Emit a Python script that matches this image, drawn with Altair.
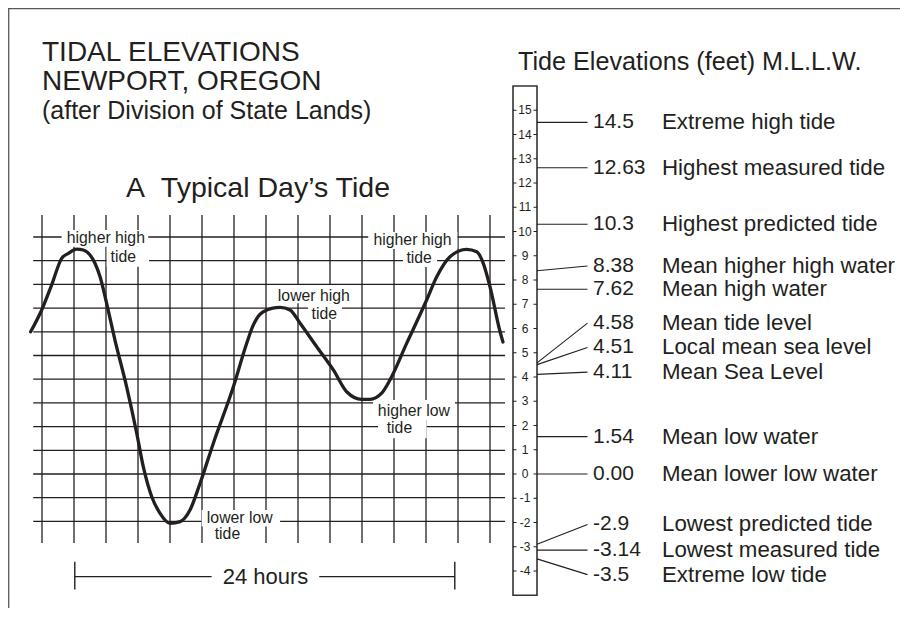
import altair as alt
import pandas as pd

# ---------------- data ----------------
# typical day's tide curve (hours from first grid line, level on the grid)
tide_hours = [-0.71, -0.02, 0.6, 1.23, 1.65, 2.17, 2.58, 3.31, 3.63, 4.04, 4.56, 5.29,
              5.92, 6.33, 6.86, 7.38, 8.0, 8.63, 9.25, 9.88, 10.71, 11.96, 12.79, 13.21,
              13.83, 14.88, 15.5, 16.13, 17.17, 18.21, 19.04, 19.98, 20.5, 21.23, 21.75,
              22.79, 24.04, 24.67, 25.5, 26.54, 27.17, 27.58, 28.0, 28.63, 28.81]
tide_level = [6.0, 6.92, 7.97, 9.1, 9.31, 9.49, 9.45, 8.89, 8.32, 7.2, 5.65, 3.68,
              1.72, 0.31, -0.96, -1.66, -2.08, -2.01, -1.52, -0.39, 1.3, 3.68, 5.51, 6.29,
              6.85, 7.03, 6.92, 6.36, 5.37, 4.39, 3.47, 3.15, 3.15, 3.41, 3.97,
              5.51, 7.34, 8.32, 9.17, 9.48, 9.38, 8.89, 7.9, 6.0, 5.57]

grid_hours = list(range(0, 29, 2))
grid_levels = list(range(-2, 11))

ruler_ticks = list(range(-4, 16))
ruler_top, ruler_bottom = 16, -5

datum_values = [14.5, 12.63, 10.3, 8.38, 7.62, 4.58, 4.51, 4.11, 1.54, 0.00, -2.9, -3.14, -3.5]
datum_labels = ["14.5", "12.63", "10.3", "8.38", "7.62", "4.58", "4.51", "4.11",
                "1.54", "0.00", "-2.9", "-3.14", "-3.5"]
datum_names = ["Extreme high tide", "Highest measured tide", "Highest predicted tide",
               "Mean higher high water", "Mean high water", "Mean tide level",
               "Local mean sea level", "Mean Sea Level", "Mean low water",
               "Mean lower low water", "Lowest predicted tide", "Lowest measured tide",
               "Extreme low tide"]

curve_labels = ["higher high", "tide", "higher high", "tide", "lower high", "tide",
                "higher low", "tide", "lower low", "tide"]

title_lines = ["TIDAL ELEVATIONS", "NEWPORT, OREGON", "(after Division of State Lands)"]
subtitle = "A\u00a0\u00a0Typical Day\u2019s Tide"
right_title = "Tide Elevations (feet) M.L.L.W."
span_label = "24 hours"

# ---------------- layout ----------------
OX, OY = 8, 8
W, H = 892, 600
HOUR_X0, PX_PER_HOUR = 42, 16
G_Y0, PX_PER_G = 474, 23.7
R_Y0, PX_PER_R = 474, 24.25

INK = "#231f20"
FONT = "Liberation Sans"


def px(v):
    return v - OX


def py(v):
    return v - OY


xs = alt.Scale(domain=[(OX - HOUR_X0) / PX_PER_HOUR, (OX + W - HOUR_X0) / PX_PER_HOUR],
               nice=False, zero=False)
ygs = alt.Scale(domain=[(G_Y0 - (OY + H)) / PX_PER_G, (G_Y0 - OY) / PX_PER_G],
                nice=False, zero=False)
yrs = alt.Scale(domain=[(R_Y0 - (OY + H)) / PX_PER_R, (R_Y0 - OY) / PX_PER_R],
                nice=False, zero=False)


def X(f):
    return alt.X(f, type="quantitative", scale=xs, axis=None)


def X2(f):
    return alt.X2(f)


def YG(f):
    return alt.Y(f, type="quantitative", scale=ygs, axis=None)


def YR(f):
    return alt.Y(f, type="quantitative", scale=yrs, axis=None)


# annotation placement (hours / grid level)
lab_h = [3.99, 5.08, 23.16, 23.57, 16.99, 17.64, 23.24, 22.34, 12.36, 11.59]
lab_g = [9.76, 8.96, 9.66, 8.89, 7.30, 6.54, 2.45, 1.74, -2.05, -2.76]
box_h0 = [1.23, 4.04, 20.39, 22.56, 14.56, 16.63, 20.69, 21.0, 9.98, 10.06]
box_h1 = [6.64, 6.69, 25.96, 24.69, 19.88, 18.75, 25.81, 24.04, 14.88, 12.81]
box_g0 = [10.30, 9.59, 10.21, 9.49, 7.97, 7.20, 3.12, 2.28, -1.52, -2.22]
box_g1 = [9.59, 8.75, 9.49, 8.73, 7.20, 6.50, 2.28, 1.51, -2.22, -3.0]
grid_left, grid_right = -0.55, 28.94
grid_top, grid_bottom = 10.93, -2.91
span_start, span_end, span_level = 2.05, 25.8, -4.33
span_gap0, span_gap1 = 10.6, 17.33
span_tick_top, span_tick_bottom = -3.70, -4.87
span_mid = 13.97
# text rows for the datum list (ruler feet), nudged where crowded
datum_rows = [14.5, 12.63, 10.3, 8.58, 7.62, 6.22, 5.22, 4.2, 1.54, 0.0, -2.08, -3.14, -4.15]

# ---------------- left panel ----------------
vgrid = alt.Chart(pd.DataFrame({"h": grid_hours, "t": grid_top, "b": grid_bottom})).mark_rule(
    color=INK, strokeWidth=1.3).encode(x=X("h"), y=YG("t"), y2=alt.Y2("b"))
hgrid = alt.Chart(pd.DataFrame({"g": grid_levels, "l": grid_left, "r": grid_right})).mark_rule(
    color=INK, strokeWidth=1.3).encode(y=YG("g"), x=X("l"), x2=X2("r"))

boxes = alt.Chart(pd.DataFrame({"h0": box_h0, "h1": box_h1, "g0": box_g0, "g1": box_g1})).mark_rect(
    fill="white", strokeWidth=0).encode(x=X("h0"), x2=X2("h1"), y=YG("g0"), y2=alt.Y2("g1"))
labels = alt.Chart(pd.DataFrame({"t": curve_labels, "h": lab_h, "g": lab_g})).mark_text(
    font=FONT, fontSize=15.8, color=INK, align="center", baseline="alphabetic").encode(
    x=X("h"), y=YG("g"), text="t:N")

curve = alt.Chart(pd.DataFrame({"h": tide_hours, "g": tide_level})).mark_line(
    color=INK, strokeWidth=3.3, interpolate="monotone", strokeCap="round").encode(
    x=X("h"), y=YG("g"))

span_df = pd.DataFrame({"a": [span_start, span_gap1], "b": [span_gap0, span_end], "g": span_level})
span_lines = alt.Chart(span_df).mark_rule(color=INK, strokeWidth=1.2).encode(
    x=X("a"), x2=X2("b"), y=YG("g"))
span_ticks = alt.Chart(pd.DataFrame({"h": [span_start, span_end], "t": span_tick_top,
                                     "b": span_tick_bottom})).mark_rule(
    color=INK, strokeWidth=1.4).encode(x=X("h"), y=YG("t"), y2=alt.Y2("b"))
span_text = alt.Chart(pd.DataFrame({"t": [span_label], "h": [span_mid], "g": [span_level]})).mark_text(
    font=FONT, fontSize=22, color=INK, align="center", baseline="middle").encode(
    x=X("h"), y=YG("g"), text="t:N")

one = pd.DataFrame({"a": [0]})
frame_top = alt.Chart(one).mark_rule(color="#58595b", strokeWidth=1.3).encode(
    x=alt.value(0), x2=alt.value(W), y=alt.value(0.7))
frame_left = alt.Chart(one).mark_rule(color="#58595b", strokeWidth=1.3).encode(
    x=alt.value(0.7), y=alt.value(0), y2=alt.value(H))

title_sizes = [28.0, 28.0, 25.0]
title_base = [61.3, 90, 119]
titles = [
    alt.Chart(pd.DataFrame({"t": [line]})).mark_text(
        font=FONT, fontSize=s, color=INK, align="left", baseline="alphabetic").encode(
        x=alt.value(px(42)), y=alt.value(py(b)), text="t:N")
    for line, s, b in zip(title_lines, title_sizes, title_base)
]
sub = alt.Chart(pd.DataFrame({"t": [subtitle]})).mark_text(
    font=FONT, fontSize=28.5, color=INK, align="left", baseline="alphabetic").encode(
    x=alt.value(px(126)), y=alt.value(py(197)), text="t:N")

left = alt.layer(frame_top, frame_left, vgrid, hgrid, boxes, labels, curve,
                 span_lines, span_ticks, span_text, *titles, sub)

# ---------------- right panel (ruler) ----------------
RL, RR = px(513), px(537)
ruler = alt.Chart(pd.DataFrame({"t": [ruler_top], "b": [ruler_bottom]})).mark_rect(
    fill="white", stroke="#333333", strokeWidth=1.6).encode(
    x=alt.value(RL), x2=alt.value(RR), y=YR("t"), y2=alt.Y2("b"))
tick_df = pd.DataFrame({"v": ruler_ticks, "lab": [str(t) for t in ruler_ticks]})
ticks_l = alt.Chart(tick_df).mark_rule(color=INK, strokeWidth=1).encode(
    x=alt.value(RL), x2=alt.value(RL + 3.5), y=YR("v"))
ticks_r = alt.Chart(tick_df).mark_rule(color=INK, strokeWidth=1).encode(
    x=alt.value(RR - 3.5), x2=alt.value(RR), y=YR("v"))
tick_text = alt.Chart(tick_df).mark_text(
    font=FONT, fontSize=12, color=INK, align="center", baseline="middle").encode(
    x=alt.value(px(525)), y=YR("v"), text="lab:N")

datum_df = pd.DataFrame({"v": datum_values, "row": datum_rows, "lab": datum_labels,
                         "name": datum_names})
leaders = alt.Chart(datum_df).mark_rule(color=INK, strokeWidth=1.1).encode(
    x=alt.value(RR), x2=alt.value(px(587.5)), y=YR("v"), y2=alt.Y2("row"))
values = alt.Chart(datum_df).mark_text(
    font=FONT, fontSize=21, color=INK, align="left", baseline="middle").encode(
    x=alt.value(px(593)), y=YR("row"), text="lab:N")
names = alt.Chart(datum_df).mark_text(
    font=FONT, fontSize=22.3, color=INK, align="left", baseline="middle").encode(
    x=alt.value(px(662)), y=YR("row"), text="name:N")
rtitle = alt.Chart(pd.DataFrame({"t": [right_title]})).mark_text(
    font=FONT, fontSize=25.2, color=INK, align="left", baseline="alphabetic").encode(
    x=alt.value(px(518)), y=alt.value(py(69.5)), text="t:N")

right = alt.layer(ruler, ticks_l, ticks_r, tick_text, leaders, values, names, rtitle)

chart = alt.layer(left, right).resolve_scale(y="independent").properties(
    width=W, height=H, padding=0, autosize="none", background="white"
).configure_view(stroke=None)

chart.save("out.html", embed_options={"renderer": "svg", "actions": False})
